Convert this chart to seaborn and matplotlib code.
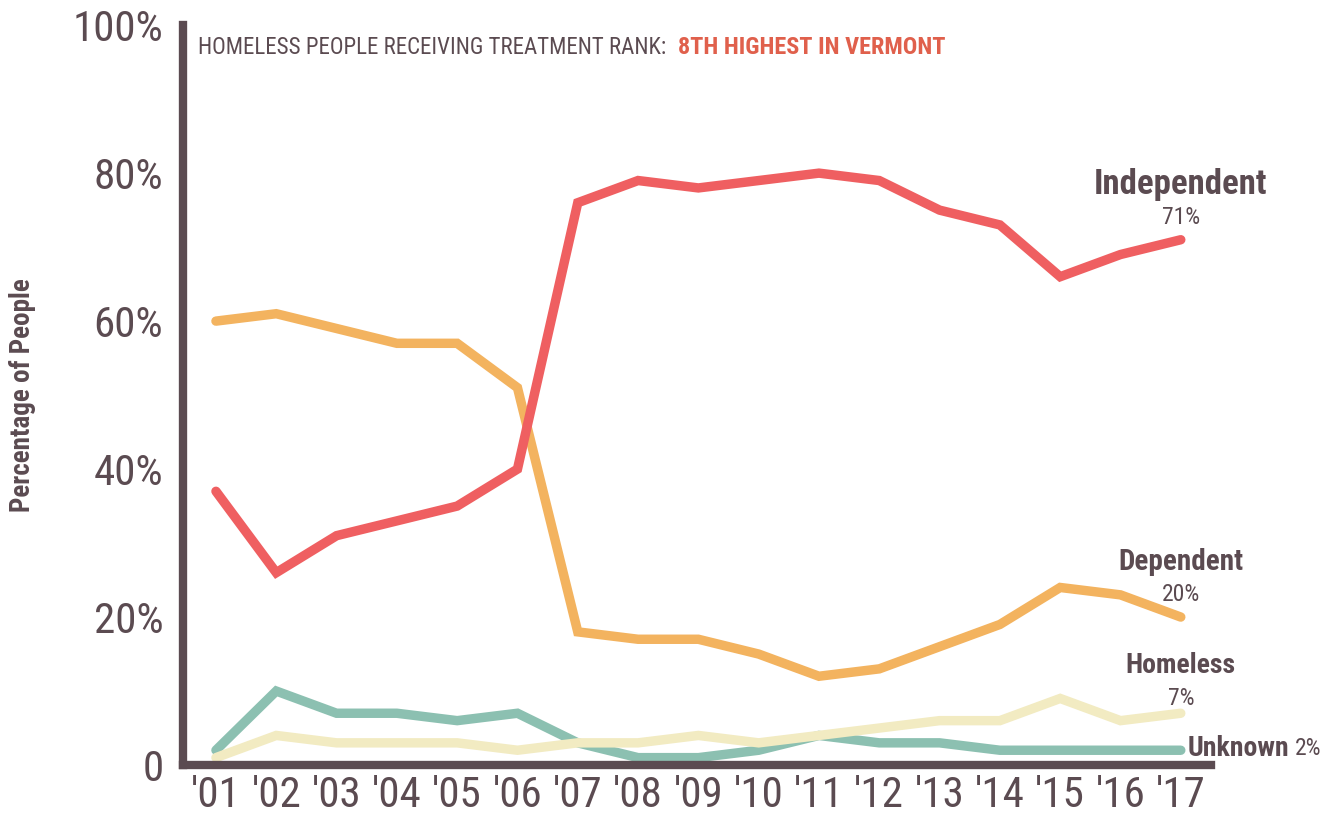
import matplotlib
matplotlib.use("Agg")
import matplotlib.pyplot as plt
import matplotlib.font_manager as fm
import numpy as np
import pandas as pd
import seaborn as sns

years = ["'01", "'02", "'03", "'04", "'05", "'06", "'07", "'08", "'09",
         "'10", "'11", "'12", "'13", "'14", "'15", "'16", "'17"]
independent = [37, 26, 31, 33, 35, 40, 76, 79, 78, 79, 80, 79, 75, 73, 66, 69, 71]
dependent = [60, 61, 59, 57, 57, 51, 18, 17, 17, 15, 12, 13, 16, 19, 24, 23, 20]
homeless = [1, 4, 3, 3, 3, 2, 3, 3, 4, 3, 4, 5, 6, 6, 9, 6, 7]
unknown = [2, 10, 7, 7, 6, 7, 3, 1, 1, 2, 4, 3, 3, 2, 2, 2, 2]

series_names = ["Unknown", "Homeless", "Dependent", "Independent"]
series_values = [unknown, homeless, dependent, independent]
colors = {"Unknown": "#8cc0b1", "Homeless": "#f2ebc2",
          "Dependent": "#f3b35f", "Independent": "#ef5f61"}
y_ticks = [0, 20, 40, 60, 80, 100]
y_tick_labels = ["0", "20%", "40%", "60%", "80%", "100%"]

TXT = "#5b4b51"

sns.set_style("white")

# look for a narrow sans face, the original uses a condensed font
family, stretch = "DejaVu Sans", "normal"
narrow = [f for f in fm.fontManager.ttflist
          if f.stretch in ("condensed", "semi-condensed", "extra-condensed")
          or "Narrow" in f.name or "Condensed" in f.name]
for pref in ["Liberation Sans Narrow", "Roboto Condensed", "Open Sans Condensed",
             "Noto Sans", "Open Sans", "Roboto", "DejaVu Sans Condensed", "DejaVu Sans"]:
    hit = [f for f in narrow if f.name == pref]
    if hit:
        family, stretch = pref, hit[0].stretch
        break
plt.rcParams["font.family"] = [family, "DejaVu Sans"]
plt.rcParams["font.stretch"] = stretch

rows = []
for name, vals in zip(series_names, series_values):
    for i, v in enumerate(vals):
        rows.append({"x": i, "year": years[i], "pct": v, "group": name})
df = pd.DataFrame(rows)

fig = plt.figure(figsize=(13.44, 8.17), dpi=100)
ax = fig.add_axes([0.136, 0.0636, 0.765, 0.9056])

sns.lineplot(data=df, x="x", y="pct", hue="group", hue_order=series_names,
             palette=colors, linewidth=6.8, legend=False, ax=ax,
             solid_capstyle="round", solid_joinstyle="miter")

ax.set_xlim(-0.55, 16.5)
ax.set_ylim(0, 100)
ax.set_xticks(range(len(years)))
ax.set_xticklabels(years, fontsize=31, color=TXT)
ax.set_yticks(y_ticks)
ax.set_yticklabels(y_tick_labels, fontsize=31, color=TXT)
ax.tick_params(axis="both", direction="in", length=11, width=1.5, color=TXT)
ax.tick_params(axis="x", pad=7)
ax.tick_params(axis="y", pad=14)

for s in ["top", "right"]:
    ax.spines[s].set_visible(False)
for s in ["left", "bottom"]:
    ax.spines[s].set_color(TXT)
    ax.spines[s].set_linewidth(6)

ax.set_xlabel("")
ax.set_ylabel("Percentage of People", fontsize=19.5, fontweight="bold", color=TXT)
ax.yaxis.set_label_coords(-0.143, 0.5)

# right-side labels
ax.text(16, 78.5, "Independent", ha="center", va="center", fontsize=25,
        fontweight="bold", color=TXT)
ax.text(16, 74, "71%", ha="center", va="center", fontsize=17, color=TXT)
ax.text(16, 27.5, "Dependent", ha="center", va="center", fontsize=21,
        fontweight="bold", color=TXT)
ax.text(16, 23, "20%", ha="center", va="center", fontsize=17, color=TXT)
ax.text(16, 13.5, "Homeless", ha="center", va="center", fontsize=20,
        fontweight="bold", color=TXT)
ax.text(16, 9, "7%", ha="center", va="center", fontsize=17, color=TXT)
t_unk = ax.text(16.12, 2.3, "Unknown", ha="left", va="center", fontsize=20,
                fontweight="bold", color=TXT, clip_on=False)

# header
t1 = ax.text(-0.3, 97, "HOMELESS PEOPLE RECEIVING TREATMENT RANK:", ha="left",
             va="center", fontsize=16.5, color=TXT)
fig.canvas.draw()
inv = ax.transData.inverted()
bb = t1.get_window_extent()
x_end = inv.transform((bb.x1 + 12, bb.y0))[0]
ax.text(x_end, 97, "8TH HIGHEST IN VERMONT", ha="left", va="center",
        fontsize=17.5, fontweight="bold", color="#e0604c")
bb = t_unk.get_window_extent()
x_end = inv.transform((bb.x1 + 5, bb.y0))[0]
ax.text(x_end, 2.3, "2%", ha="left", va="center", fontsize=17, color=TXT,
        clip_on=False)

fig.savefig("out.png", dpi=100)
